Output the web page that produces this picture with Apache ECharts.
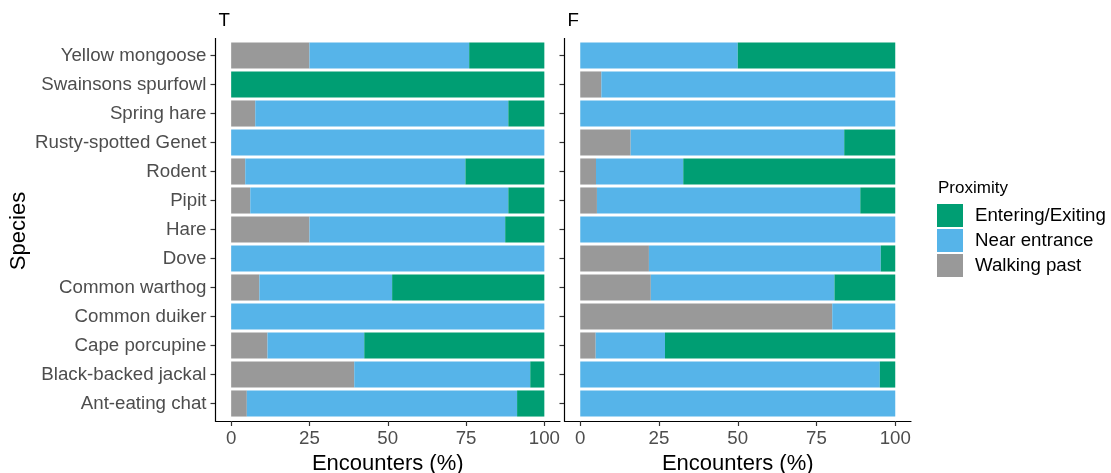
<!DOCTYPE html>
<html>
<head>
<meta charset="utf-8">
<script src="https://cdn.jsdelivr.net/npm/echarts@6/dist/echarts.min.js"></script>
<style>
html,body{margin:0;padding:0;background:#fff;}
#chart{width:1111px;height:473px;}
</style>
</head>
<body>
<div id="chart"></div>
<script>
// Categories, top to bottom
const species = ["Yellow mongoose","Swainsons spurfowl","Spring hare","Rusty-spotted Genet","Rodent","Pipit","Hare","Dove","Common warthog","Common duiker","Cape porcupine","Black-backed jackal","Ant-eating chat"];
const panels = ["T","F"];
const proximity = ["Entering/Exiting","Near entrance","Walking past"];
const xTicks = [0,25,50,75,100];

// Panel T (%)
const T_walking  = [25, 0, 7.7, 0, 4.5, 6.1, 25, 0, 9, 0, 11.6, 39.3, 5];
const T_near     = [51, 0, 80.8, 100, 70.3, 82.4, 62.5, 100, 42.4, 100, 30.9, 56.2, 86.3];
const T_entering = [24, 100, 11.5, 0, 25.2, 11.5, 12.5, 0, 48.6, 0, 57.5, 4.5, 8.7];

// Panel F (%)
const F_walking  = [0, 6.7, 0, 16, 5, 5.3, 0, 21.8, 22.4, 80, 4.9, 0, 0];
const F_near     = [50, 93.3, 100, 67.8, 27.7, 83.6, 100, 73.6, 58.3, 20, 22, 95.1, 100];
const F_entering = [50, 0, 0, 16.2, 67.3, 11.1, 0, 4.6, 19.3, 0, 73.1, 4.9, 0];

const colors = {"Entering/Exiting":"#009E73","Near entrance":"#56B4E9","Walking past":"#999999"};
const FONT = "Liberation Sans, Arial, sans-serif";
const AX = 18.7;

const grids = [
  {left:215.5, top:41, width:344.5, height:377, outerBoundsMode:'none', containLabel:false},
  {left:564.5, top:41, width:346.5, height:377, outerBoundsMode:'none', containLabel:false}
];

function xAxisFor(i){
  return {
    type:'value', gridIndex:i, min:-5, max:105, offset:3,
    axisLine:{show:true, onZero:false, lineStyle:{color:'#000', width:1.2}},
    axisTick:{show:true, length:5, customValues:xTicks, lineStyle:{color:'#333', width:1.2}},
    axisLabel:{show:true, customValues:xTicks, margin:8, color:'#4d4d4d', fontSize:AX, fontFamily:FONT},
    splitLine:{show:false},
    name:'Encounters (%)', nameLocation:'middle', nameGap:27,
    nameTextStyle:{color:'#000', fontSize:22, fontFamily:FONT}
  };
}
function yAxisFor(i){
  return {
    type:'category', gridIndex:i, data:species, inverse:true,
    axisLine:{show:false, onZero:false},
    axisTick:{show:true, alignWithLabel:true, length:5, lineStyle:{color:'#333', width:1.2}},
    axisLabel:{show:i===0, margin:9, color:'#4d4d4d', fontSize:AX, fontFamily:FONT},
    splitLine:{show:false}
  };
}

const seriesData = [
  {walk:T_walking, near:T_near, ent:T_entering},
  {walk:F_walking, near:F_near, ent:F_entering}
];
const series = [];
seriesData.forEach((d,i)=>{
  [["Walking past",d.walk],["Near entrance",d.near],["Entering/Exiting",d.ent]].forEach(([name,vals])=>{
    series.push({
      type:'bar', name:name, xAxisIndex:i, yAxisIndex:i, stack:'s'+i,
      data:vals, barCategoryGap:'10%',
      itemStyle:{color:colors[name]},
      emphasis:{disabled:true}, animation:false
    });
  });
});

const graphic = [];
grids.forEach((g,i)=>{
  graphic.push({type:'line', shape:{x1:g.left, y1:38, x2:g.left, y2:421.5}, style:{stroke:'#000', lineWidth:1.2}, z:10});
  graphic.push({type:'text', x:g.left+3, y:21, style:{text:panels[i], fill:'#000', font:AX+'px '+FONT, textAlign:'left', textVerticalAlign:'middle'}});
});
graphic.push({type:'text', x:19, y:231, rotation:Math.PI/2,
  style:{text:'Species', fill:'#000', font:'22px '+FONT, textAlign:'center', textVerticalAlign:'middle'}});
graphic.push({type:'text', x:938, y:188, style:{text:'Proximity', fill:'#000', font:'17px '+FONT, textAlign:'left', textVerticalAlign:'middle'}});

const chart = echarts.init(document.getElementById('chart'), null, {renderer:'canvas'});
chart.setOption({
  animation:false,
  backgroundColor:'#fff',
  grid:grids,
  xAxis:[xAxisFor(0), xAxisFor(1)],
  yAxis:[yAxisFor(0), yAxisFor(1)],
  legend:{
    data:proximity, orient:'vertical', left:937, top:204, padding:0,
    itemWidth:26, itemHeight:23, itemGap:2, icon:'rect',
    textStyle:{color:'#000', fontSize:AX, fontFamily:FONT, padding:[0,0,0,7]},
    selectedMode:false
  },
  series:series,
  graphic:graphic
});
</script>
</body>
</html>
